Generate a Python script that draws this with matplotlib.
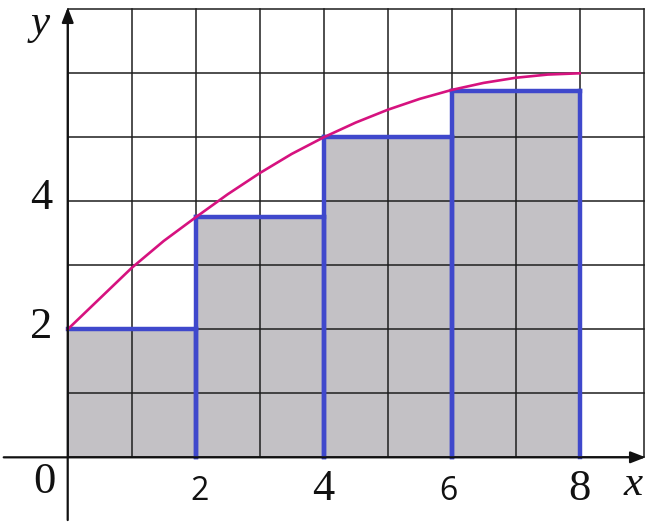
import matplotlib.pyplot as plt

# rectangles (left end points)
rect_left = [0, 2, 4, 6]
rect_width = 2
rect_height = [2.0, 3.75, 5.0, 5.72]

# curve
curve_x = [0, 0.5, 1, 1.5, 2, 2.5, 3, 3.5, 4, 4.5, 5, 5.5, 6, 6.5, 7, 7.5, 8]
curve_y = [2.0, 2.48, 2.96, 3.38, 3.75, 4.11, 4.44, 4.74, 5.0, 5.23, 5.43, 5.6, 5.74, 5.85, 5.93, 5.98, 6.0]

serif_ticks = {"0": (-0.37, -0.39), "2": (-0.41, 2.03), "4": (-0.41, 4.05)}
x_ticks = [(2.06, "2", "sans"), (4.0, "4", "serif"), (5.95, "6", "sans"), (7.99, "8", "serif")]

fig = plt.figure(figsize=(6.51, 5.26), dpi=100)
ax = fig.add_axes([0, 0, 1, 1])
ax.set_xlim(-1.058, 9.114)
ax.set_ylim(-1.073, 7.145)
ax.axis("off")

grid_c = "#1e1e1e"
for gx in range(0, 10):
    ax.plot([gx, gx], [0, 7], color=grid_c, lw=1.1, zorder=2)
for gy in range(0, 8):
    ax.plot([0, 9], [gy, gy], color=grid_c, lw=1.1, zorder=2)

blue = "#3f48cc"
for i, (l, h) in enumerate(zip(rect_left, rect_height)):
    ax.bar(l, h, width=rect_width, align="edge", color="#c3c1c5", zorder=1)
for i, (l, h) in enumerate(zip(rect_left, rect_height)):
    r = l + rect_width
    ax.plot([l, r], [h, h], color=blue, lw=3.2, solid_capstyle="projecting", zorder=4)
    ax.plot([r, r], [0, h], color=blue, lw=3.2, zorder=4)
    if i > 0:
        ax.plot([l, l], [0, h], color=blue, lw=3.2, zorder=4)

ax.plot(curve_x, curve_y, color="#d6127f", lw=1.9, zorder=5)

# axes with arrows
ax.annotate("", xy=(9.03, 0), xytext=(-1.0, 0),
            arrowprops=dict(arrowstyle="-|>,head_length=0.9,head_width=0.35",
                            lw=1.6, color="#111111", shrinkA=0, shrinkB=0), zorder=6)
ax.annotate("", xy=(0, 7.03), xytext=(0, -0.98),
            arrowprops=dict(arrowstyle="-|>,head_length=0.9,head_width=0.35",
                            lw=1.6, color="#111111", shrinkA=0, shrinkB=0), zorder=6)

for txt, (tx, ty) in serif_ticks.items():
    ax.text(tx, ty, txt, family="Liberation Serif", fontsize=32,
            ha="center", va="center", color="#111111")
for tx, txt, kind in x_ticks:
    if kind == "sans":
        ax.text(tx, -0.53, txt, family="Open Sans", fontsize=23,
                ha="center", va="center", color="#111111")
    else:
        ax.text(tx, -0.49, txt, family="Liberation Serif", fontsize=32,
                ha="center", va="center", color="#111111")

ax.text(8.83, -0.43, "x", family="Liberation Serif", style="italic", fontsize=31,
        ha="center", va="center", color="#111111")
ax.text(-0.43, 6.78, "y", family="Liberation Serif", style="italic", fontsize=31,
        ha="center", va="center", color="#111111")

fig.savefig("out.png", dpi=100)
